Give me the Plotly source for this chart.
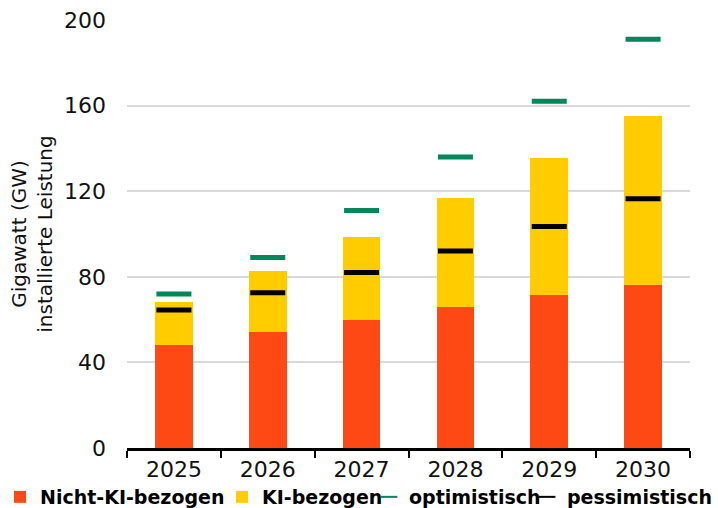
import plotly.graph_objects as go

years = ["2025", "2026", "2027", "2028", "2029", "2030"]
nicht_ki = [48, 54, 60, 66, 71.5, 76]
ki = [20, 28.5, 38.5, 51, 64, 79]
optimistisch = [72, 89, 111, 136, 162, 191]
pessimistisch = [64.5, 72.5, 82, 92, 103.5, 116.5]

RED = "#FF4914"
YEL = "#FFCC00"
GRN = "#00875A"

fig = go.Figure()
fig.add_bar(x=years, y=nicht_ki, name="Nicht-KI-bezogen", marker_color=RED, width=0.4,
            marker_line_width=0, legend="legend")
fig.add_bar(x=years, y=ki, name="KI-bezogen", marker_color=YEL, width=0.4,
            marker_line_width=0, legend="legend2")
fig.add_scatter(x=years, y=optimistisch, name="optimistisch", mode="markers", legend="legend3",
                marker=dict(symbol="line-ew", size=25, line=dict(width=5, color=GRN), color=GRN))
fig.add_scatter(x=years, y=pessimistisch, name="pessimistisch", mode="markers", legend="legend4",
                marker=dict(symbol="line-ew", size=25, line=dict(width=5, color="black"), color="black"))

W, H = 718, 508
lfont = dict(family="DejaVu Sans", size=19, color="black", weight="bold")


def leg(text_px):
    return dict(orientation="h", xref="container", yref="container",
                x=max(text_px - 41, 0) / W, y=1 - 497 / H, xanchor="left", yanchor="middle",
                font=lfont, itemwidth=30, itemsizing="constant", bgcolor="rgba(0,0,0,0)")


fig.update_layout(
    width=W, height=H,
    margin=dict(l=127, r=28, t=20, b=60, autoexpand=False),
    barmode="stack",
    plot_bgcolor="white", paper_bgcolor="white",
    font=dict(family="DejaVu Sans", color="#111111"),
    legend=leg(32), legend2=leg(263), legend3=leg(410), legend4=leg(568),
    showlegend=True,
)
fig.update_xaxes(showline=True, linecolor="black", linewidth=2.5, ticks="outside",
                 tickson="boundaries", ticklen=7, tickwidth=2, tickcolor="black",
                 tickfont=dict(size=22), showgrid=False)
fig.update_yaxes(range=[0, 200], dtick=40, showgrid=True, gridcolor="#D9D8E0", gridwidth=2,
                 zeroline=False, tickfont=dict(size=22), ticks="", ticklabelstandoff=20,
                 title=dict(text="Gigawatt (GW)<br>installierte Leistung", font=dict(size=20), standoff=6))

fig.write_html("out.html")
